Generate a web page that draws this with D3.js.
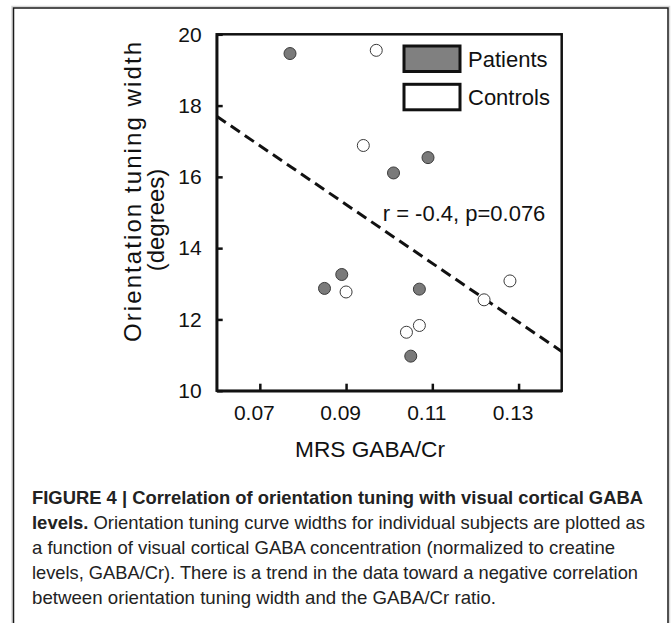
<!DOCTYPE html>
<html>
<head>
<meta charset="utf-8">
<script src="https://cdn.jsdelivr.net/npm/d3@7"></script>
<style>
  body { margin: 0; background: #fff; }
  text { font-family: "Liberation Sans", Arial, sans-serif; fill: #111; }
  .caption text { font-family: "Liberation Sans Narrow", "Liberation Sans", sans-serif; fill: #222; }
</style>
</head>
<body>
<svg id="chart" width="671" height="623"></svg>
<script>
// data
var patientsX = [0.077, 0.109, 0.101, 0.085, 0.089, 0.107, 0.105];
var patientsY = [19.46, 16.54, 16.11, 12.87, 13.26, 12.85, 10.97];
var controlsX = [0.097, 0.094, 0.090, 0.104, 0.107, 0.122, 0.128];
var controlsY = [19.55, 16.88, 12.77, 11.64, 11.83, 12.55, 13.08];
var fitX = [0.06, 0.14];
var fitY = [17.7, 11.1];
var xTicks = [0.07, 0.09, 0.11, 0.13];
var yTicks = [10, 12, 14, 16, 18, 20];
var legendLabels = ["Patients", "Controls"];
var statText = "r = -0.4, p=0.076";
var captionLines = [
  [["FIGURE 4 | Correlation of orientation tuning with visual cortical GABA", true]],
  [["levels.", true], [" Orientation tuning curve widths for individual subjects are plotted as", false]],
  [["a function of visual cortical GABA concentration (normalized to creatine", false]],
  [["levels, GABA/Cr). There is a trend in the data toward a negative correlation", false]],
  [["between orientation tuning width and the GABA/Cr ratio.", false]]
];
var captionWidths = [611, 613, 583, 606, 464];

var svg = d3.select("#chart");

// figure frame
svg.append("path")
  .attr("d", "M12,640V6.5H669.5V640")
  .attr("fill", "none").attr("stroke", "#d8d8d8").attr("stroke-width", 1.5);
svg.append("path")
  .attr("d", "M13.5,640V8H668V640")
  .attr("fill", "none").attr("stroke", "#1a1a1a").attr("stroke-width", 1.5);

var plotLeft = 216.7, plotRight = 561.7, plotTop = 34.3, plotBottom = 390.7;

var x = d3.scaleLinear().domain([0.06, 0.14]).range([plotLeft, plotRight]);
var y = d3.scaleLinear().domain([10, 20]).range([plotBottom, plotTop]);

var g = svg.append("g");

// plot box
g.append("rect")
  .attr("x", plotLeft).attr("y", plotTop)
  .attr("width", plotRight - plotLeft).attr("height", plotBottom - plotTop)
  .attr("fill", "none").attr("stroke", "#111").attr("stroke-width", 2.5);

var yAxis = g.append("g")
  .attr("transform", "translate(" + plotLeft + ",0)")
  .call(d3.axisLeft(y).tickValues(yTicks).tickSizeInner(-6).tickSizeOuter(0).tickPadding(15).tickFormat(d3.format("d")));
var xAxis = g.append("g")
  .attr("transform", "translate(0," + plotBottom + ")")
  .call(d3.axisBottom(x).tickValues(xTicks).tickSizeInner(-7).tickSizeOuter(0).tickPadding(14).tickFormat(d3.format(".2f")));

[yAxis, xAxis].forEach(function(ax) {
  ax.select(".domain").attr("stroke", "#111").attr("stroke-width", 2.5);
  ax.selectAll(".tick line").attr("stroke", "#111").attr("stroke-width", 2.5);
  ax.selectAll(".tick text").attr("fill", "#111").style("font-size", "21px")
    .style("font-family", "'Liberation Sans', Arial, sans-serif");
});
xAxis.selectAll(".tick text").attr("dx", -6);

// regression line
g.append("path")
  .datum(d3.zip(fitX, fitY))
  .attr("d", d3.line().x(function(d) { return x(d[0]); }).y(function(d) { return y(d[1]); }))
  .attr("fill", "none").attr("stroke", "#111").attr("stroke-width", 3)
  .attr("stroke-dasharray", "11,6");

// points
g.selectAll(".patient")
  .data(d3.zip(patientsX, patientsY))
  .enter().append("circle")
  .attr("class", "patient")
  .attr("cx", function(d) { return x(d[0]); })
  .attr("cy", function(d) { return y(d[1]); })
  .attr("r", 6)
  .attr("fill", "#7a7a7a").attr("stroke", "#3a3a3a").attr("stroke-width", 1);

g.selectAll(".control")
  .data(d3.zip(controlsX, controlsY))
  .enter().append("circle")
  .attr("class", "control")
  .attr("cx", function(d) { return x(d[0]); })
  .attr("cy", function(d) { return y(d[1]); })
  .attr("r", 6)
  .attr("fill", "#fff").attr("stroke", "#3a3a3a").attr("stroke-width", 1);

// legend
var legend = g.selectAll(".legend")
  .data(legendLabels)
  .enter().append("g")
  .attr("transform", function(d, i) { return "translate(404," + (46 + i * 38.3) + ")"; });
legend.append("rect")
  .attr("width", 56).attr("height", 25.5)
  .attr("fill", function(d, i) { return i == 0 ? "#808080" : "#fff"; })
  .attr("stroke", "#111").attr("stroke-width", 3);
legend.append("text")
  .attr("x", 64).attr("y", 21)
  .style("font-size", "22px")
  .text(function(d) { return d; });

g.append("text")
  .attr("x", 382.7).attr("y", 220.7)
  .style("font-size", "22px")
  .text(statText);

// axis titles
g.append("text")
  .attr("x", 370).attr("y", 456.5)
  .attr("text-anchor", "middle")
  .style("font-size", "22.7px")
  .text("MRS GABA/Cr");

var yTitle = g.append("text")
  .attr("transform", "translate(141,192) rotate(-90)")
  .attr("text-anchor", "middle")
  .style("font-size", "24px");
yTitle.append("tspan").attr("x", 0).attr("y", 0)
  .attr("textLength", 300).attr("lengthAdjust", "spacing")
  .text("Orientation tuning width");
yTitle.append("tspan").attr("x", -28).attr("y", 23).text("(degrees)");

// caption
var cap = svg.append("g").attr("class", "caption");
captionLines.forEach(function(line, i) {
  var t = cap.append("text")
    .attr("x", 32).attr("y", 504 + i * 25)
    .attr("textLength", captionWidths[i])
    .attr("lengthAdjust", "spacingAndGlyphs")
    .style("font-size", "19px");
  line.forEach(function(part) {
    t.append("tspan")
      .style("font-weight", part[1] ? "bold" : "normal")
      .text(part[0]);
  });
});
</script>
</body>
</html>
